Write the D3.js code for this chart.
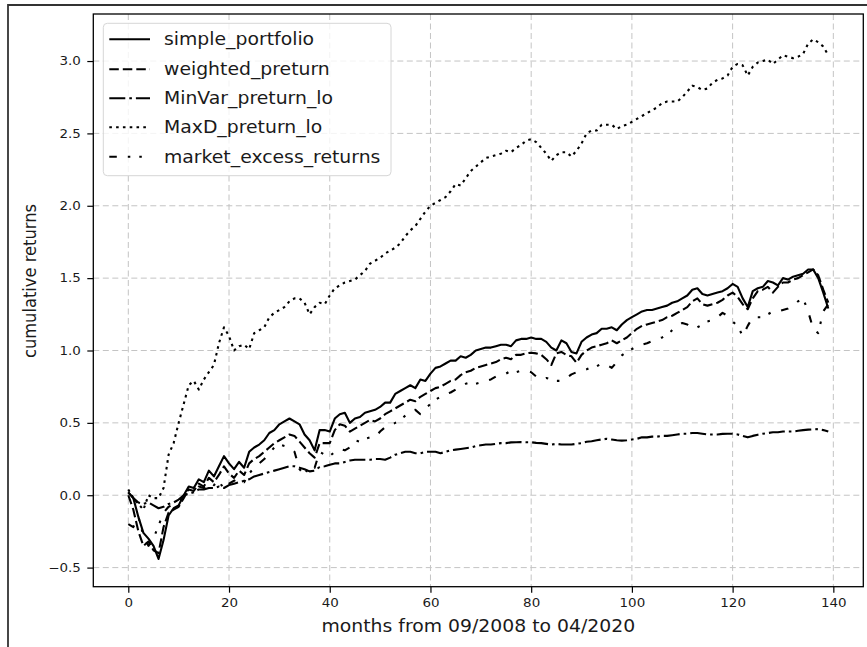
<!DOCTYPE html>
<html><head><meta charset="utf-8">
<script src="https://cdn.jsdelivr.net/npm/d3@7/dist/d3.min.js"></script>
<style>
body{margin:0;background:#fff}
svg{display:block}
text{font-family:"DejaVu Sans",sans-serif;fill:#1a1a1a}
</style>
</head><body>
<svg id="chart" width="867" height="647"></svg>
<script>
// ---------- data ----------
const months = d3.range(0, 140);
const xTicks = [0, 20, 40, 60, 80, 100, 120, 140];
const yTicks = [-0.5, 0.0, 0.5, 1.0, 1.5, 2.0, 2.5, 3.0];
const seriesNames = ["simple_portfolio", "weighted_preturn", "MinVar_preturn_lo", "MaxD_preturn_lo", "market_excess_returns"];

const simplePortfolio = [
 0.02,-0.02,-0.15,-0.26,-0.30,-0.35,-0.44,-0.31,-0.14,-0.09,
 -0.07,0.00,0.06,0.05,0.11,0.09,0.17,0.13,0.20,0.27,
 0.22,0.18,0.23,0.19,0.30,0.33,0.35,0.38,0.43,0.45,
 0.49,0.51,0.53,0.51,0.49,0.42,0.38,0.31,0.45,0.45,
 0.44,0.53,0.56,0.57,0.50,0.53,0.54,0.57,0.58,0.59,
 0.61,0.64,0.64,0.70,0.72,0.74,0.76,0.74,0.80,0.79,
 0.84,0.88,0.89,0.91,0.93,0.93,0.96,0.95,0.97,1.00,
 1.01,1.02,1.02,1.03,1.04,1.04,1.03,1.07,1.08,1.08,
 1.09,1.08,1.08,1.06,1.02,1.00,1.07,1.05,0.99,0.98,
 1.06,1.09,1.11,1.12,1.15,1.15,1.16,1.14,1.18,1.21,
 1.23,1.25,1.27,1.28,1.28,1.29,1.30,1.31,1.33,1.34,
 1.36,1.38,1.42,1.43,1.39,1.38,1.39,1.40,1.41,1.43,
 1.46,1.44,1.36,1.30,1.41,1.43,1.44,1.48,1.47,1.45,
 1.50,1.49,1.51,1.52,1.53,1.56,1.56,1.50,1.40,1.29];

const weightedPreturn = [
 0.00,-0.10,-0.25,-0.35,-0.32,-0.38,-0.40,-0.22,-0.12,-0.10,
 -0.08,-0.02,0.04,0.03,0.08,0.06,0.12,0.09,0.14,0.20,
 0.15,0.12,0.17,0.14,0.22,0.25,0.27,0.30,0.33,0.36,
 0.38,0.40,0.42,0.41,0.37,0.33,0.29,0.26,0.36,0.36,
 0.36,0.45,0.49,0.48,0.44,0.46,0.48,0.50,0.52,0.51,
 0.53,0.56,0.58,0.60,0.62,0.64,0.66,0.65,0.68,0.70,
 0.72,0.74,0.75,0.77,0.79,0.80,0.83,0.85,0.86,0.88,
 0.89,0.90,0.91,0.92,0.94,0.95,0.94,0.97,0.97,0.98,
 0.985,0.98,0.97,0.94,0.90,0.98,0.99,0.97,0.96,0.915,
 0.97,1.00,1.02,1.03,1.04,1.05,1.07,1.05,1.07,1.09,
 1.12,1.15,1.17,1.18,1.19,1.20,1.21,1.23,1.24,1.26,
 1.28,1.30,1.34,1.36,1.32,1.31,1.32,1.33,1.35,1.38,
 1.40,1.37,1.32,1.285,1.36,1.41,1.42,1.44,1.40,1.44,
 1.47,1.47,1.49,1.50,1.52,1.54,1.56,1.52,1.42,1.33];

const minVarPreturnLo = [
 0.02,-0.02,-0.05,-0.06,-0.05,-0.07,-0.09,-0.08,-0.06,-0.05,
 -0.03,0.00,0.01,0.02,0.04,0.04,0.05,0.05,0.06,0.05,
 0.07,0.08,0.09,0.10,0.11,0.13,0.14,0.15,0.16,0.17,
 0.18,0.19,0.20,0.20,0.19,0.18,0.165,0.17,0.195,0.20,
 0.21,0.22,0.22,0.23,0.24,0.245,0.245,0.245,0.245,0.25,
 0.25,0.245,0.26,0.28,0.29,0.30,0.30,0.29,0.29,0.30,
 0.30,0.30,0.29,0.30,0.31,0.315,0.32,0.325,0.33,0.34,
 0.345,0.35,0.35,0.355,0.36,0.36,0.365,0.366,0.367,0.366,
 0.366,0.362,0.36,0.355,0.35,0.355,0.35,0.35,0.35,0.355,
 0.36,0.37,0.373,0.38,0.385,0.39,0.385,0.38,0.377,0.38,
 0.385,0.39,0.40,0.40,0.405,0.405,0.41,0.41,0.415,0.42,
 0.425,0.425,0.43,0.43,0.425,0.42,0.42,0.42,0.424,0.425,
 0.425,0.42,0.41,0.40,0.41,0.418,0.425,0.43,0.435,0.435,
 0.44,0.44,0.44,0.445,0.45,0.453,0.455,0.457,0.45,0.44];

const maxDPreturnLo = [
 0.04,-0.02,-0.06,-0.10,0.00,-0.02,-0.02,0.05,0.28,0.36,
 0.50,0.63,0.76,0.79,0.73,0.80,0.85,0.90,1.05,1.16,
 1.10,1.00,1.03,1.04,1.01,1.12,1.14,1.16,1.23,1.26,
 1.28,1.30,1.34,1.36,1.36,1.33,1.25,1.30,1.33,1.32,
 1.38,1.43,1.45,1.47,1.48,1.49,1.52,1.55,1.60,1.62,
 1.64,1.67,1.69,1.71,1.74,1.79,1.83,1.86,1.91,1.96,
 2.00,2.02,2.04,2.06,2.10,2.15,2.14,2.19,2.24,2.27,
 2.30,2.33,2.34,2.35,2.36,2.38,2.37,2.40,2.42,2.45,
 2.46,2.44,2.40,2.36,2.31,2.35,2.37,2.37,2.34,2.38,
 2.43,2.50,2.52,2.52,2.56,2.56,2.56,2.53,2.55,2.56,
 2.58,2.60,2.62,2.64,2.66,2.68,2.71,2.72,2.72,2.72,
 2.75,2.79,2.83,2.82,2.80,2.81,2.85,2.87,2.88,2.90,
 2.96,2.98,2.97,2.90,2.96,2.99,3.00,3.01,2.98,3.01,
 3.04,3.03,3.02,3.03,3.05,3.12,3.15,3.13,3.10,3.04];

const marketExcessReturns = [
 -0.20,-0.22,-0.15,-0.28,-0.35,-0.30,-0.21,-0.12,-0.08,-0.06,
 -0.04,0.00,0.04,0.03,0.06,0.05,0.09,0.07,0.10,0.04,
 0.08,0.10,0.12,0.09,0.15,0.19,0.22,0.25,0.29,0.33,
 0.35,0.34,0.33,0.30,0.18,0.14,0.21,0.19,0.30,0.28,
 0.27,0.30,0.32,0.31,0.33,0.38,0.37,0.39,0.40,0.40,
 0.44,0.47,0.48,0.50,0.52,0.55,0.58,0.59,0.56,0.60,
 0.63,0.66,0.68,0.70,0.71,0.73,0.75,0.77,0.78,0.77,
 0.78,0.79,0.80,0.82,0.83,0.84,0.86,0.85,0.86,0.86,
 0.85,0.82,0.80,0.81,0.80,0.79,0.79,0.81,0.835,0.85,
 0.86,0.87,0.885,0.89,0.91,0.90,0.88,0.92,0.966,0.99,
 1.01,1.03,1.04,1.05,1.065,1.08,1.09,1.11,1.14,1.17,
 1.19,1.18,1.15,1.16,1.18,1.20,1.21,1.23,1.26,1.24,
 1.20,1.17,1.10,1.17,1.23,1.23,1.23,1.25,1.27,1.27,
 1.28,1.29,1.31,1.34,1.36,1.27,1.15,1.12,1.27,1.32];

// ---------- layout ----------
const svg = d3.select("#chart");
const L = 93.3, R = 863.3, T = 14, B = 586.7;
const x = d3.scaleLinear().domain([-6.95, 145.95]).range([L, R]);
const y = d3.scaleLinear().domain([-0.632, 3.325]).range([B, T]);
const stretch = 1.12;

// outer frame of the screenshot
svg.append("path").attr("d", `M8,647 L8,5 L867,5`).attr("fill", "none")
  .attr("stroke", "#333").attr("stroke-width", 1.8);

// grid
const grid = svg.append("g");
grid.selectAll(".vg").data(xTicks).join("line")
  .attr("x1", d => x(d)).attr("x2", d => x(d)).attr("y1", T).attr("y2", B)
  .attr("stroke", "#c4c4c4").attr("stroke-width", 1).attr("stroke-dasharray", "6,3.5");
grid.selectAll(".hg").data(yTicks).join("line")
  .attr("x1", L).attr("x2", R).attr("y1", d => y(d)).attr("y2", d => y(d))
  .attr("stroke", "#c4c4c4").attr("stroke-width", 1).attr("stroke-dasharray", "6,3.5");

// series
svg.append("clipPath").attr("id", "clip").append("rect")
  .attr("x", L).attr("y", T).attr("width", R - L).attr("height", B - T);

const styles = [
  {data: simplePortfolio, dash: null},
  {data: weightedPreturn, dash: "9.5,4"},
  {data: minVarPreturnLo, dash: "16,4,2.6,4"},
  {data: maxDPreturnLo, dash: "2.6,4.2"},
  {data: marketExcessReturns, dash: "7.5,11,2.5,9,2.5,11"}
];
const line = d3.line().x((d, i) => x(months[i])).y(d => y(d));
const lg = svg.append("g").attr("clip-path", "url(#clip)");
styles.forEach(s => {
  lg.append("path").datum(s.data).attr("d", line)
    .attr("fill", "none").attr("stroke", "#000").attr("stroke-width", 2.1)
    .attr("stroke-linejoin", "round")
    .attr("stroke-dasharray", s.dash);
});

// axes
const xAxis = svg.append("g").attr("transform", `translate(0,${B})`)
  .call(d3.axisBottom(x).tickValues(xTicks).tickFormat(d3.format("d")).tickSize(6).tickPadding(6));
const yAxis = svg.append("g").attr("transform", `translate(${L},0)`)
  .call(d3.axisLeft(y).tickValues(yTicks).tickFormat(d => d3.format(".1f")(d).replace("-", "\u2212")).tickSize(6).tickPadding(6));
[xAxis, yAxis].forEach(a => {
  a.select(".domain").remove();
  a.selectAll(".tick line").attr("stroke", "#000").attr("stroke-width", 1.2);
  a.selectAll(".tick text").attr("font-size", 12).attr("font-family", "DejaVu Sans").attr("fill", "#222");
});
xAxis.selectAll(".tick text").attr("transform", `scale(${stretch},1)`);
yAxis.selectAll(".tick text").attr("x", -12.5 / stretch).attr("transform", `scale(${stretch},1)`);

// frame
svg.append("rect").attr("x", L).attr("y", T).attr("width", R - L).attr("height", B - T)
  .attr("fill", "none").attr("stroke", "#000").attr("stroke-width", 1.3);

// axis labels
svg.append("text").attr("transform", `translate(${(L + R) / 2},626) scale(${stretch},1)`)
  .attr("text-anchor", "middle").attr("dominant-baseline", "central")
  .attr("font-size", 16.8).text("months from 09/2008 to 04/2020");
svg.append("text").attr("transform", `translate(30,281) rotate(-90) scale(1,${stretch})`)
  .attr("text-anchor", "middle").attr("dominant-baseline", "central")
  .attr("font-size", 16.3).text("cumulative returns");

// legend
const leg = svg.append("g");
leg.append("rect").attr("x", 103.3).attr("y", 23.3).attr("width", 287.7).attr("height", 152.4)
  .attr("rx", 4).attr("fill", "#fff").attr("fill-opacity", 0.8).attr("stroke", "#d6d6d6").attr("stroke-width", 1);
const rowY = [39.3, 69.3, 98.3, 127.3, 156.7];
styles.forEach((s, i) => {
  leg.append("line").attr("x1", 109.3).attr("x2", 150).attr("y1", rowY[i]).attr("y2", rowY[i])
    .attr("stroke", "#000").attr("stroke-width", 2.1).attr("stroke-dasharray", s.dash);
  leg.append("text").attr("transform", `translate(164,${rowY[i]}) scale(${stretch},1)`)
    .attr("dominant-baseline", "central").attr("font-size", 16.8).text(seriesNames[i]);
});
</script>
</body></html>
